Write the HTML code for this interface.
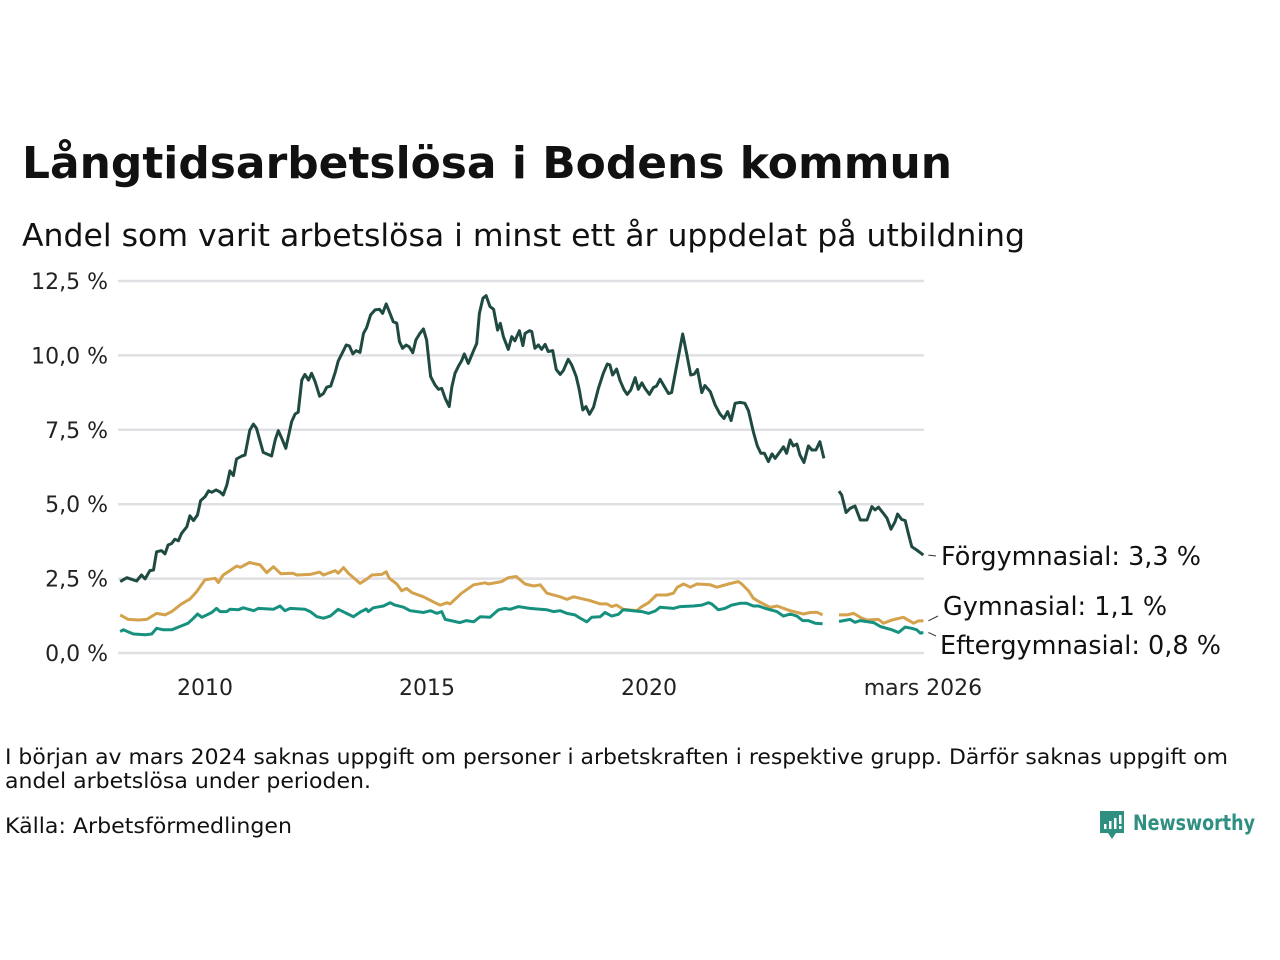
<!DOCTYPE html>
<html><head><meta charset="utf-8"><style>
html,body{margin:0;padding:0;background:#fff;}
svg{display:block;font-family:"DejaVu Sans","Liberation Sans",sans-serif;}
</style></head><body>
<svg id="chart" width="1280" height="960" viewBox="0 0 1280 960" xmlns="http://www.w3.org/2000/svg">
<text x="22" y="178" font-size="44" font-weight="bold" fill="#111" textLength="930" lengthAdjust="spacingAndGlyphs">Långtidsarbetslösa i Bodens kommun</text>
<text x="22" y="246" font-size="31" fill="#111" textLength="1003" lengthAdjust="spacingAndGlyphs">Andel som varit arbetslösa i minst ett år uppdelat på utbildning</text>
<g id="grid"></g>
<g id="yticks"></g>
<g id="xticks"></g>
<g id="series"></g>
<g id="labels"></g>
<text x="5" y="764" font-size="21" fill="#111" textLength="1223" lengthAdjust="spacingAndGlyphs">I början av mars 2024 saknas uppgift om personer i arbetskraften i respektive grupp. Därför saknas uppgift om</text>
<text x="5" y="788" font-size="21" fill="#111" textLength="366" lengthAdjust="spacingAndGlyphs">andel arbetslösa under perioden.</text>
<text x="5" y="833" font-size="21" fill="#111" textLength="287" lengthAdjust="spacingAndGlyphs">Källa: Arbetsförmedlingen</text>
<g>
<path d="M1100 811 h24 v22 h-8 l-4 6 l-4 -6 h-8 z" fill="#2f8f81"/>
<rect x="1104" y="824" width="2.5" height="5" fill="#fff"/><rect x="1109" y="821" width="2.5" height="8" fill="#fff"/><rect x="1114" y="818" width="2.5" height="11" fill="#fff"/><rect x="1119" y="815" width="2.5" height="9" fill="#fff"/><rect x="1119" y="826" width="2.5" height="3" fill="#fff"/>
<text x="1133" y="830" font-size="21" font-weight="bold" fill="#2f8f81" textLength="122" lengthAdjust="spacingAndGlyphs">Newsworthy</text>
</g>
</svg>
<script>
const yTicks = [0, 2.5, 5, 7.5, 10, 12.5];
const yTickLabels = ["0,0 %", "2,5 %", "5,0 %", "7,5 %", "10,0 %", "12,5 %"];
const xTicks = [2010, 2015, 2020, 2026.17];
const xTickLabels = ["2010", "2015", "2020", "mars 2026"];

const forgYears = [2008.09,2008.24,2008.46,2008.57,2008.65,2008.76,2008.84,2008.91,2009.02,2009.10,2009.17,2009.25,2009.32,2009.40,2009.47,2009.59,2009.66,2009.74,2009.83,2009.90,2010.00,2010.08,2010.15,2010.25,2010.34,2010.41,2010.49,2010.56,2010.64,2010.71,2010.83,2010.90,2011.01,2011.09,2011.16,2011.31,2011.50,2011.58,2011.65,2011.73,2011.82,2011.95,2012.03,2012.10,2012.18,2012.25,2012.33,2012.40,2012.48,2012.58,2012.67,2012.74,2012.83,2012.93,2013.00,2013.12,2013.18,2013.25,2013.33,2013.40,2013.49,2013.57,2013.64,2013.73,2013.83,2013.93,2014.00,2014.08,2014.15,2014.24,2014.32,2014.38,2014.45,2014.53,2014.60,2014.68,2014.75,2014.84,2014.92,2014.99,2015.08,2015.18,2015.26,2015.33,2015.41,2015.50,2015.56,2015.63,2015.71,2015.78,2015.84,2015.93,2016.05,2016.12,2016.18,2016.26,2016.33,2016.42,2016.50,2016.59,2016.65,2016.72,2016.83,2016.91,2016.98,2017.08,2017.16,2017.21,2017.31,2017.36,2017.43,2017.51,2017.58,2017.66,2017.73,2017.83,2017.91,2018.00,2018.07,2018.18,2018.26,2018.36,2018.43,2018.51,2018.58,2018.66,2018.75,2018.86,2018.97,2019.06,2019.12,2019.18,2019.27,2019.35,2019.44,2019.51,2019.59,2019.69,2019.76,2019.84,2019.91,2020.01,2020.10,2020.17,2020.25,2020.34,2020.44,2020.51,2020.62,2020.76,2020.85,2020.94,2021.02,2021.09,2021.19,2021.26,2021.38,2021.49,2021.60,2021.69,2021.77,2021.85,2021.94,2022.05,2022.16,2022.24,2022.35,2022.44,2022.52,2022.60,2022.69,2022.77,2022.84,2022.94,2023.03,2023.10,2023.18,2023.25,2023.33,2023.40,2023.49,2023.59,2023.67,2023.76,2023.85,2023.94,2024.10,2024.28,2024.34,2024.44,2024.53,2024.64,2024.76,2024.91,2025.02,2025.09,2025.17,2025.28,2025.36,2025.45,2025.54,2025.60,2025.69,2025.77,2025.84,2025.92,2026.03,2026.18];
const forgValues = [2.40,2.53,2.42,2.62,2.49,2.77,2.79,3.40,3.44,3.33,3.63,3.68,3.82,3.77,4.02,4.24,4.61,4.45,4.64,5.12,5.25,5.45,5.40,5.48,5.41,5.31,5.64,6.12,5.96,6.52,6.62,6.65,7.49,7.69,7.55,6.74,6.62,7.16,7.47,7.21,6.88,7.77,8.03,8.09,9.17,9.36,9.17,9.40,9.12,8.63,8.72,8.93,8.97,9.42,9.81,10.16,10.35,10.32,10.05,10.16,10.10,10.74,10.93,11.36,11.53,11.55,11.41,11.73,11.47,11.13,11.08,10.46,10.24,10.35,10.29,10.09,10.52,10.74,10.89,10.52,9.29,9.01,8.86,8.89,8.56,8.28,8.95,9.40,9.64,9.82,10.05,9.73,10.16,10.40,11.41,11.92,12.01,11.64,11.55,10.85,11.08,10.63,10.20,10.63,10.49,10.83,10.33,10.74,10.83,10.80,10.24,10.35,10.20,10.37,10.13,10.16,9.53,9.36,9.49,9.87,9.68,9.29,8.84,8.17,8.28,8.02,8.26,8.89,9.40,9.71,9.68,9.34,9.54,9.15,8.84,8.69,8.84,9.25,8.86,9.08,8.89,8.69,8.92,8.97,9.20,8.97,8.72,8.75,9.62,10.72,10.05,9.34,9.37,9.53,8.75,8.99,8.78,8.33,8.03,7.88,8.11,7.81,8.39,8.42,8.39,8.14,7.44,6.96,6.71,6.71,6.43,6.69,6.54,6.74,6.93,6.71,7.16,6.96,7.02,6.65,6.40,6.96,6.82,6.82,7.10,6.54,null,5.44,5.31,4.72,4.86,4.94,4.47,4.47,4.92,4.81,4.90,4.69,4.53,4.16,4.41,4.67,4.49,4.45,4.02,3.57,3.46,3.29];

const gymYears = [2008.09,2008.27,2008.50,2008.69,2008.91,2009.10,2009.25,2009.47,2009.66,2009.81,2010.00,2010.23,2010.30,2010.41,2010.56,2010.71,2010.80,2011.00,2011.24,2011.39,2011.54,2011.71,2011.98,2012.07,2012.37,2012.58,2012.67,2012.93,2013.00,2013.12,2013.23,2013.49,2013.64,2013.76,2013.98,2014.08,2014.15,2014.32,2014.43,2014.54,2014.66,2014.92,2015.18,2015.30,2015.45,2015.52,2015.78,2016.05,2016.31,2016.38,2016.68,2016.83,2017.01,2017.21,2017.40,2017.55,2017.70,2018.00,2018.15,2018.30,2018.67,2018.90,2019.05,2019.16,2019.27,2019.42,2019.72,2019.84,2019.99,2020.17,2020.40,2020.55,2020.64,2020.78,2020.93,2021.08,2021.38,2021.53,2021.79,2022.01,2022.09,2022.24,2022.35,2022.47,2022.73,2022.88,2023.18,2023.48,2023.63,2023.78,2023.91,2024.10,2024.28,2024.46,2024.61,2024.79,2024.91,2025.17,2025.28,2025.47,2025.73,2025.96,2026.07,2026.18];
const gymValues = [1.28,1.13,1.11,1.13,1.33,1.28,1.39,1.65,1.81,2.06,2.46,2.51,2.37,2.62,2.77,2.92,2.88,3.04,2.96,2.70,2.90,2.66,2.68,2.62,2.64,2.72,2.62,2.77,2.68,2.87,2.68,2.34,2.48,2.62,2.64,2.73,2.51,2.32,2.09,2.17,2.03,1.89,1.69,1.61,1.69,1.65,2.01,2.29,2.36,2.32,2.40,2.53,2.57,2.32,2.25,2.29,2.01,1.89,1.80,1.89,1.76,1.65,1.65,1.56,1.61,1.47,1.42,1.56,1.69,1.95,1.95,2.01,2.21,2.32,2.21,2.32,2.29,2.21,2.32,2.40,2.32,2.09,1.84,1.73,1.53,1.58,1.42,1.31,1.36,1.37,1.28,null,1.28,1.28,1.33,1.17,1.11,1.13,1.00,1.11,1.20,1.00,1.08,1.08];

const eftYears = [2008.09,2008.16,2008.39,2008.65,2008.80,2008.91,2009.06,2009.25,2009.47,2009.62,2009.74,2009.83,2009.93,2010.15,2010.26,2010.34,2010.49,2010.56,2010.75,2010.86,2011.10,2011.20,2011.54,2011.69,2011.80,2011.92,2012.25,2012.37,2012.52,2012.67,2012.82,2013.00,2013.19,2013.34,2013.49,2013.63,2013.68,2013.79,2014.02,2014.17,2014.28,2014.47,2014.62,2014.92,2015.08,2015.22,2015.33,2015.41,2015.74,2015.89,2016.05,2016.20,2016.42,2016.61,2016.76,2016.87,2017.06,2017.32,2017.55,2017.70,2017.85,2018.00,2018.15,2018.33,2018.45,2018.60,2018.71,2018.90,2019.01,2019.16,2019.31,2019.42,2019.69,2019.84,2019.99,2020.14,2020.25,2020.55,2020.70,2021.00,2021.19,2021.34,2021.41,2021.56,2021.71,2021.86,2022.05,2022.20,2022.35,2022.47,2022.62,2022.88,2023.03,2023.18,2023.33,2023.46,2023.59,2023.74,2023.91,2024.10,2024.28,2024.53,2024.64,2024.76,2025.06,2025.21,2025.47,2025.62,2025.77,2025.92,2026.03,2026.11,2026.18];
const eftValues = [0.72,0.78,0.64,0.61,0.64,0.83,0.78,0.78,0.91,1.00,1.17,1.31,1.20,1.36,1.50,1.39,1.39,1.47,1.45,1.52,1.42,1.50,1.47,1.58,1.42,1.50,1.47,1.39,1.22,1.17,1.24,1.47,1.33,1.22,1.37,1.48,1.39,1.52,1.58,1.69,1.61,1.54,1.42,1.36,1.42,1.33,1.39,1.13,1.02,1.09,1.05,1.22,1.20,1.45,1.50,1.47,1.56,1.50,1.47,1.45,1.39,1.42,1.33,1.28,1.17,1.05,1.20,1.22,1.36,1.24,1.30,1.45,1.41,1.39,1.33,1.41,1.54,1.50,1.56,1.58,1.61,1.69,1.65,1.45,1.50,1.61,1.67,1.67,1.58,1.58,1.50,1.39,1.24,1.31,1.24,1.09,1.09,1.00,0.98,null,1.06,1.13,1.03,1.09,1.02,0.89,0.78,0.69,0.87,0.83,0.78,0.67,0.69];

const seriesNames = ["Förgymnasial", "Gymnasial", "Eftergymnasial"];
const seriesLast = ["3,3 %", "1,1 %", "0,8 %"];

const NS = "http://www.w3.org/2000/svg";
const X0 = 118, X1 = 924, Y0 = 653, Y1 = 281;
function xs(v){ return 205 + (v - 2010) * 44.4; }
function ys(v){ return Y0 - (v / 12.5) * (Y0 - Y1); }
function mk(tag, attrs, parent){ const e = document.createElementNS(NS, tag); for (const k in attrs) e.setAttribute(k, attrs[k]); parent.appendChild(e); return e; }

const grid = document.getElementById('grid');
const yg = document.getElementById('yticks');
yTicks.forEach((t, i) => {
  const l = mk('line', {x1: X0, x2: X1, y1: ys(t), y2: ys(t), stroke: '#e0dfe3', 'stroke-width': 2.5}, grid);
  
  
  const tx = mk('text', {x: 108, y: ys(t) + 8, 'text-anchor': 'end', 'font-size': 22, fill: '#222'}, yg);
  tx.textContent = yTickLabels[i];
  
  
});
const xg = document.getElementById('xticks');
xTicks.forEach((t, i) => {
  const tx = mk('text', {x: xs(t), y: 695, 'text-anchor': 'middle', 'font-size': 22, fill: '#222'}, xg);
  tx.textContent = xTickLabels[i];
  
  
});

function pathFor(years, vals){
  let d = '', pen = false;
  years.forEach((y, i) => {
    const v = vals[i];
    if (v === null) { pen = false; return; }
    d += (pen ? 'L' : 'M') + xs(y).toFixed(1) + ' ' + ys(v).toFixed(1) + ' ';
    pen = true;
  });
  return d;
}
const sg = document.getElementById('series');
const colors = ['#1f4a42', '#d4a24c', '#17917f'];
const allYears = [forgYears, gymYears, eftYears];
const allVals = [forgValues, gymValues, eftValues];
[1, 2, 0].forEach(i => {
  const p = mk('path', {d: pathFor(allYears[i], allVals[i]), fill: 'none', stroke: colors[i], 'stroke-width': 3, 'stroke-linejoin': 'round'}, sg);
  
  
});

const lg = document.getElementById('labels');
const labelY = [565, 615, 654];
const labelX = [941, 943, 940];
const leaderEnd = [[936, 556], [938, 616], [936, 636]];
[0, 1, 2].forEach(i => {
  const yv = allVals[i][allVals[i].length - 1];
  const ln = mk('line', {x1: xs(allYears[i][allYears[i].length - 1]) + 5, y1: ys(yv), x2: leaderEnd[i][0], y2: leaderEnd[i][1], stroke: '#333', 'stroke-width': 1}, lg);
  
  
  const tx = mk('text', {x: labelX[i], y: labelY[i], 'font-size': 25.5, fill: '#111'}, lg);
  tx.textContent = seriesNames[i] + ': ' + seriesLast[i];
  
  
});
</script>
</body></html>
